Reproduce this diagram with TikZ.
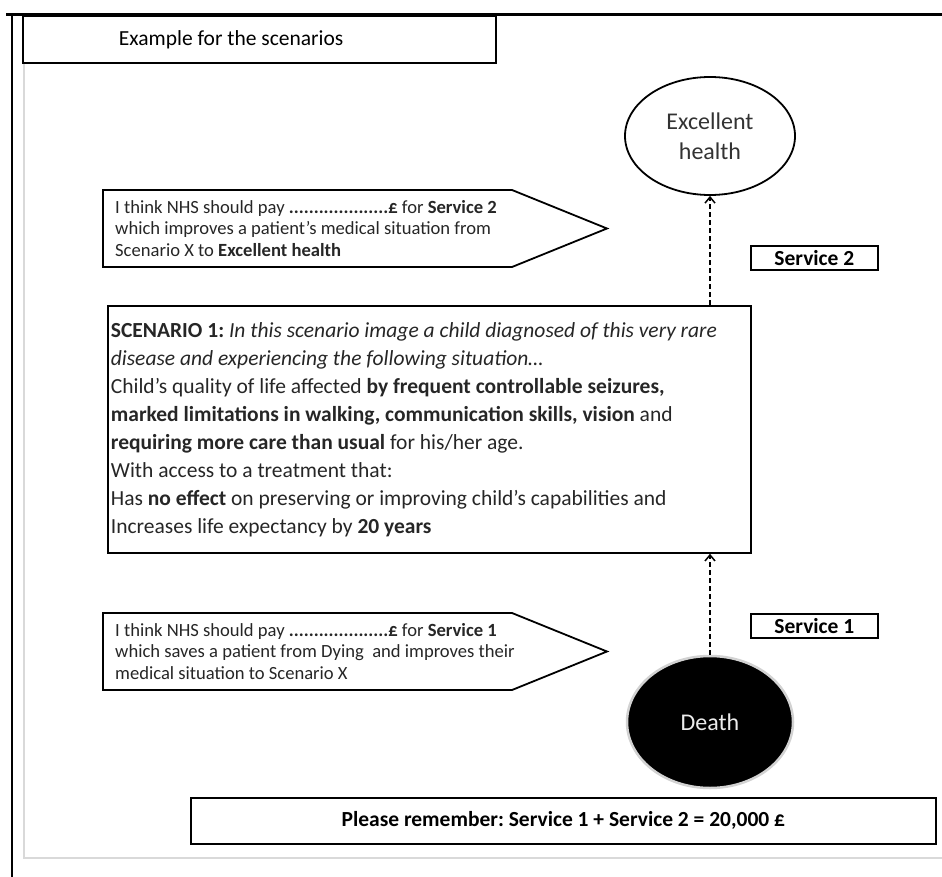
\documentclass[tikz,border=0pt]{standalone}
\usepackage{fontspec}
\setmainfont{Carlito}
\usetikzlibrary{positioning}
\usetikzlibrary{arrows.meta}
\usetikzlibrary{shapes.geometric}
\tikzstyle{plainbox} = [draw, line width=1.8pt, inner sep=0pt]
\tikzstyle{servicebox} = [draw, line width=1.8pt, inner sep=0pt, minimum width=127pt, minimum height=24pt, font=\fontsize{21.5}{22}\selectfont\bfseries]
\tikzstyle{pointer} = [draw, line width=1.8pt, line join=miter]
\tikzstyle{paytext} = [inner sep=0pt, align=flush left, font=\fontsize{18.6}{21.5}\selectfont, text=black!85]
\tikzstyle{moveup} = [line width=1.8pt, dashed, dash pattern=on 5pt off 3pt, -{Straight Barb[length=6pt,width=10pt,line width=1.5pt]}]
\newcommand{\paydots}{\textbf{....................}}
\frenchspacing

\begin{document}
\begin{tikzpicture}[x=1pt,y=-1pt]
			\useasboundingbox (0,0) rectangle (942,877);
			% frame
			\draw[gray!30, line width=1.5pt] (24,62) -- (24,858) -- (942,858);
			\draw[line width=3pt] (6,15) -- (942,15);
			\draw[line width=1.6pt] (12,15) -- (12,877);
			\node[plainbox, anchor=north west, minimum width=473pt, minimum height=47pt, text width=281pt, inner xsep=96pt, align=flush left, font=\fontsize{21.5}{24}\selectfont] (title) at (22,15) {Example for the scenarios};
			% states
			\node[draw, ellipse, line width=1.8pt, minimum width=170pt, minimum height=118pt, align=center, font=\fontsize{24}{30}\selectfont, text=black!80] (excellent) at (710,136) {Excellent\\health};
			\node[plainbox, anchor=north west, minimum width=643pt, minimum height=247pt, text width=637pt, inner xsep=3pt, align=flush left, font=\fontsize{21.5}{28}\selectfont, text=black!85] (scenario) at (107,305) {\textbf{SCENARIO 1:} \textit{In this scenario image a child diagnosed of this very rare}\\
			\textit{disease and experiencing the following situation\dots}\\
			Child's quality of life affected \textbf{by frequent controllable seizures,}\\
			\textbf{marked limitations in walking, communication skills, vision} and\\
			\textbf{requiring more care than usual} for his/her age.\\
			With access to a treatment that:\\
			Has \textbf{no effect} on preserving or improving child's capabilities and\\
			Increases life expectancy by \textbf{20 years}};
			\node[ellipse, fill=black, draw=gray!35, line width=2.5pt, minimum width=166pt, minimum height=132pt, text=gray!15, font=\fontsize{24}{28}\selectfont] (death) at (710,722) {Death};
			% services
			\draw[moveup] (excellent.south |- scenario.north) -- (excellent.south);
			\draw[moveup] (death.north) -- (death.north |- scenario.south);
			\node[servicebox, anchor=north west] (service2) at (750,245) {Service 2};
			\node[servicebox, anchor=north west] (service1) at (750,613) {Service 1};
			% willingness to pay
			\draw[pointer] (103,190) -- (512,190) -- (607,228.5) -- (512,267) -- (103,267) -- cycle;
			\node[paytext, anchor=north west] (pay2) at (115,200) {I think NHS should pay \paydots\textbf{£} for \textbf{Service 2}\\which improves a patient's medical situation from\\Scenario X to \textbf{Excellent health}};
			\draw[pointer] (103,613) -- (512,613) -- (607,651.5) -- (512,690) -- (103,690) -- cycle;
			\node[paytext, anchor=north west] (pay1) at (115,623) {I think NHS should pay \paydots\textbf{£} for \textbf{Service 1}\\which saves a patient from Dying\ \ and improves their\\medical situation to Scenario X};
			\node[plainbox, anchor=north west, minimum width=745pt, minimum height=46pt, font=\fontsize{21.5}{24}\selectfont\bfseries] (remember) at (190,797) {Please remember: Service 1 + Service 2 = 20,000 £};
		\end{tikzpicture}
\end{document}
